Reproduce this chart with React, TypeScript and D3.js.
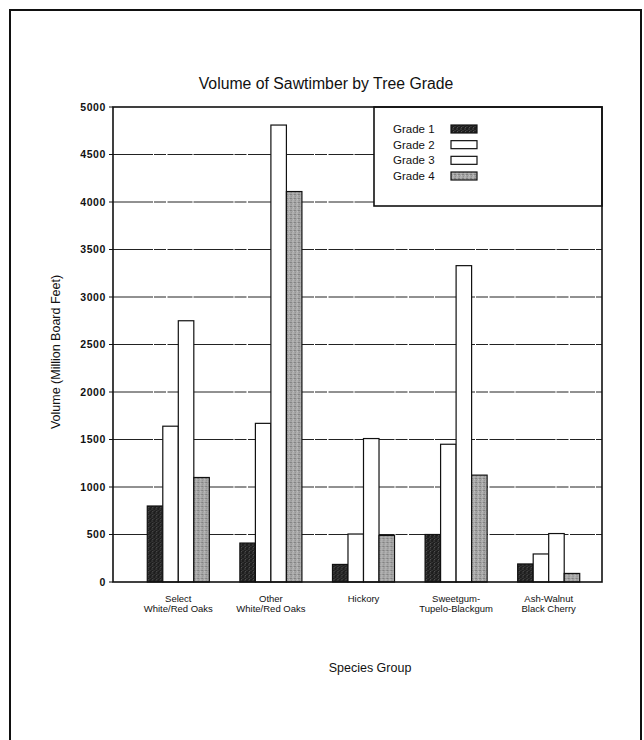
import React from "react";
import * as d3 from "d3";

// species groups (two-line labels)
const speciesLine1 = ["Select", "Other", "Hickory", "Sweetgum-", "Ash-Walnut"];
const speciesLine2 = ["White/Red Oaks", "White/Red Oaks", "", "Tupelo-Blackgum", "Black Cherry"];
const grades = ["Grade 1", "Grade 2", "Grade 3", "Grade 4"];

// million board feet
const grade1 = [800, 410, 185, 500, 190];
const grade2 = [1640, 1670, 505, 1450, 295];
const grade3 = [2750, 4810, 1510, 3330, 510];
const grade4 = [1100, 4110, 490, 1125, 90];

const yTicks = [0, 500, 1000, 1500, 2000, 2500, 3000, 3500, 4000, 4500, 5000];

const W = 644;
const H = 740;
const left = 113;
const right = 602;
const top = 107;
const bottom = 582;
const font = "'Liberation Sans', Arial, sans-serif";

const fills = ["url(#darkDots)", "#ffffff", "#ffffff", "url(#greyDots)"];

export default function App() {
  const series = [grade1, grade2, grade3, grade4];

  const y = d3.scaleLinear().domain([0, 5000]).range([bottom, top]);
  const x0 = d3
    .scaleBand<number>()
    .domain(d3.range(speciesLine1.length))
    .range([132, 595])
    .paddingInner(0.33)
    .paddingOuter(0.165);
  const x1 = d3.scaleBand<string>().domain(grades).range([0, x0.bandwidth()]);
  const legendY = d3.scalePoint<string>().domain(grades).range([129, 176]);

  return (
    <div style={{ position: "absolute", left: 0, top: 0 }}>
      <svg width={W} height={H} style={{ display: "block", background: "#fff" }}>
        <defs>
          <pattern id="darkDots" width="4" height="4" patternUnits="userSpaceOnUse">
            <rect width="4" height="4" fill="#1e1e1e" />
            <circle cx="1" cy="1" r="0.45" fill="#c8c8c8" />
            <circle cx="3" cy="2.6" r="0.4" fill="#9a9a9a" />
            <circle cx="1.8" cy="3.6" r="0.35" fill="#e0e0e0" />
          </pattern>
          <pattern id="greyDots" width="4" height="4" patternUnits="userSpaceOnUse">
            <rect width="4" height="4" fill="#a4a4a4" />
            <circle cx="1" cy="1" r="0.5" fill="#e8e8e8" />
            <circle cx="3" cy="2.4" r="0.5" fill="#4a4a4a" />
            <circle cx="1.6" cy="3.4" r="0.4" fill="#f4f4f4" />
            <circle cx="3.4" cy="0.4" r="0.35" fill="#666" />
          </pattern>
        </defs>

        {/* outer frame */}
        <rect x={10} y={10} width={631} height={740} fill="none" stroke="#111" strokeWidth={2} />

        {/* title */}
        <text x={326} y={89} textAnchor="middle" fontFamily={font} fontSize={15.8} fill="#111">
          Volume of Sawtimber by Tree Grade
        </text>

        {/* gridlines */}
        {yTicks
          .filter((t) => t > 0 && t < 5000)
          .map((t) => (
            <line
              key={"g" + t}
              x1={left}
              x2={right}
              y1={y(t)}
              y2={y(t)}
              stroke="#222"
              strokeWidth={1}
              strokeDasharray="40,1,12,1.5,25,1"
            />
          ))}

        {/* y ticks */}
        {yTicks.map((t) => (
          <g key={"t" + t}>
            <line x1={left - 4} x2={left} y1={y(t)} y2={y(t)} stroke="#111" strokeWidth={1} />
            <text
              x={left - 7}
              y={y(t)}
              dy="0.35em"
              textAnchor="end"
              fontFamily={font}
              fontSize={10.5}
              fontWeight="bold"
              letterSpacing={0.6}
              fill="#111"
            >
              {t}
            </text>
          </g>
        ))}

        {/* legend box */}
        <rect x={374} y={top} width={right - 374} height={206 - top} fill="#fff" stroke="#111" strokeWidth={1.6} />
        {grades.map((g, i) => (
          <g key={g}>
            <text x={393} y={legendY(g)} dy="0.35em" fontFamily={font} fontSize={11.5} fill="#111">
              {g}
            </text>
            <rect
              x={451}
              y={(legendY(g) as number) - 4}
              width={26}
              height={8}
              fill={fills[i]}
              stroke="#111"
              strokeWidth={1.2}
            />
          </g>
        ))}

        {/* bars */}
        {speciesLine1.map((_, si) => (
          <g key={"s" + si} transform={`translate(${x0(si)},0)`}>
            {grades.map((g, gi) => (
              <rect
                key={g}
                x={x1(g)}
                y={y(series[gi][si])}
                width={x1.bandwidth()}
                height={bottom - y(series[gi][si])}
                fill={fills[gi]}
                stroke="#111"
                strokeWidth={1.2}
              />
            ))}
          </g>
        ))}

        {/* plot frame */}
        <rect x={left} y={top} width={right - left} height={bottom - top} fill="none" stroke="#111" strokeWidth={1.6} />

        {/* x labels */}
        {speciesLine1.map((s, si) => {
          const cx = (x0(si) as number) + x0.bandwidth() / 2;
          return (
            <text key={"l" + si} textAnchor="middle" fontFamily={font} fontSize={9.5} fill="#111">
              <tspan x={cx} y={602}>{s}</tspan>
              <tspan x={cx} y={612}>{speciesLine2[si]}</tspan>
            </text>
          );
        })}

        <text x={370} y={672} textAnchor="middle" fontFamily={font} fontSize={12.5} fill="#111">
          Species Group
        </text>
        <text
          transform={`translate(60,${352}) rotate(-90)`}
          textAnchor="middle"
          fontFamily={font}
          fontSize={12.5}
          fill="#111"
        >
          Volume (Million Board Feet)
        </text>
      </svg>
    </div>
  );
}
